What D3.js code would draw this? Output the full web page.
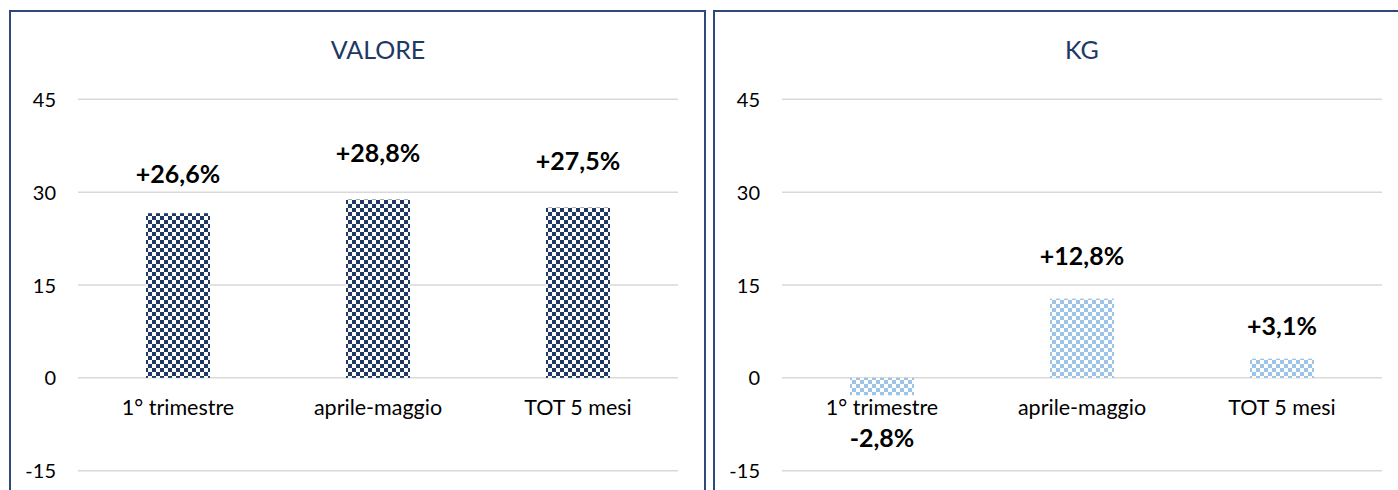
<!DOCTYPE html>
<html>
<head>
<meta charset="utf-8">
<script src="https://cdn.jsdelivr.net/npm/d3@7"></script>
<style>
  html, body { margin: 0; padding: 0; background: #fff; }
  svg { display: block; font-family: Lato, "Open Sans", sans-serif; }
</style>
</head>
<body>
<svg id="chart" width="1398" height="490"></svg>
<script>
// Categories shared by both panels
const categories = ["1° trimestre", "aprile-maggio", "TOT 5 mesi"];
// Percentage change in value
const valoreValues = [26.6, 28.8, 27.5];
const valoreLabels = ["+26,6%", "+28,8%", "+27,5%"];
// Percentage change in kilograms
const kgValues = [-2.8, 12.8, 3.1];
const kgLabels = ["-2,8%", "+12,8%", "+3,1%"];
// Y axis ticks
const yTicks = [-15, 0, 15, 30, 45];

// Layout of each panel
const panels = [
  { title: "VALORE", values: valoreValues, labels: valoreLabels,
    fill: "#203864", boxX: 10, boxW: 695, plotX: 78, lift: [30, 38, 38] },
  { title: "KG", values: kgValues, labels: kgLabels,
    fill: "#9dc3e6", boxX: 714, boxW: 700, plotX: 782, lift: [52, 34, 24] }
];

const svg = d3.select("#chart");
const defs = svg.append("defs");

panels.forEach((p, i) => {
  // checkerboard fill
  const pat = defs.append("pattern")
    .attr("id", "checker" + i)
    .attr("patternUnits", "userSpaceOnUse")
    .attr("width", 8).attr("height", 8);
  pat.append("rect").attr("width", 8).attr("height", 8).attr("fill", "#fff");
  pat.append("rect").attr("x", 0).attr("y", 0).attr("width", 4).attr("height", 4).attr("fill", p.fill);
  pat.append("rect").attr("x", 4).attr("y", 4).attr("width", 4).attr("height", 4).attr("fill", p.fill);
});

const plotW = 600;
const y = d3.scaleLinear().domain([-15, 45]).range([470.7, 99.3]);

panels.forEach((p, i) => {
  const g = svg.append("g");

  // panel frame
  g.append("rect")
    .attr("x", p.boxX).attr("y", 11)
    .attr("width", p.boxW).attr("height", 500)
    .attr("fill", "none")
    .attr("stroke", "#2f4a7a")
    .attr("stroke-width", 2);

  // title
  g.append("text")
    .attr("x", p.plotX + plotW / 2)
    .attr("y", 59)
    .attr("text-anchor", "middle")
    .attr("fill", "#203864")
    .style("font-size", "25px")
    .text(p.title);

  const x = d3.scaleBand()
    .domain(categories)
    .range([p.plotX, p.plotX + plotW])
    .paddingInner(0.68)
    .paddingOuter(0.34);

  // gridlines
  g.append("g").selectAll("line")
    .data(yTicks)
    .join("line")
    .attr("x1", p.plotX).attr("x2", p.plotX + plotW)
    .attr("y1", d => y(d)).attr("y2", d => y(d))
    .attr("stroke", "#d9d9d9")
    .attr("stroke-width", 1.5);

  // y tick labels
  g.append("g").selectAll("text")
    .data(yTicks)
    .join("text")
    .attr("x", p.plotX - 22)
    .attr("y", d => y(d) + 7.5)
    .attr("text-anchor", "end")
    .attr("fill", "#000")
    .style("font-size", "20px")
    .text(d => d);

  // bars
  g.append("g").selectAll("rect")
    .data(p.values)
    .join("rect")
    .attr("x", (d, j) => x(categories[j]))
    .attr("width", x.bandwidth())
    .attr("y", d => y(Math.max(0, d)))
    .attr("height", d => Math.abs(y(d) - y(0)))
    .attr("fill", `url(#checker${i})`);

  // category labels
  g.append("g").selectAll("text")
    .data(categories)
    .join("text")
    .attr("x", d => x(d) + x.bandwidth() / 2)
    .attr("y", y(0) + 37)
    .attr("text-anchor", "middle")
    .attr("fill", "#000")
    .style("font-size", "21.5px")
    .text(d => d);

  // value labels
  g.append("g").selectAll("text")
    .data(p.values)
    .join("text")
    .attr("x", (d, j) => x(categories[j]) + x.bandwidth() / 2)
    .attr("y", (d, j) => d >= 0 ? y(d) - p.lift[j] : y(d) + p.lift[j])
    .attr("text-anchor", "middle")
    .attr("fill", "#000")
    .style("font-size", "25px")
    .style("font-weight", "bold")
    .text((d, j) => p.labels[j]);
});
</script>
</body>
</html>
